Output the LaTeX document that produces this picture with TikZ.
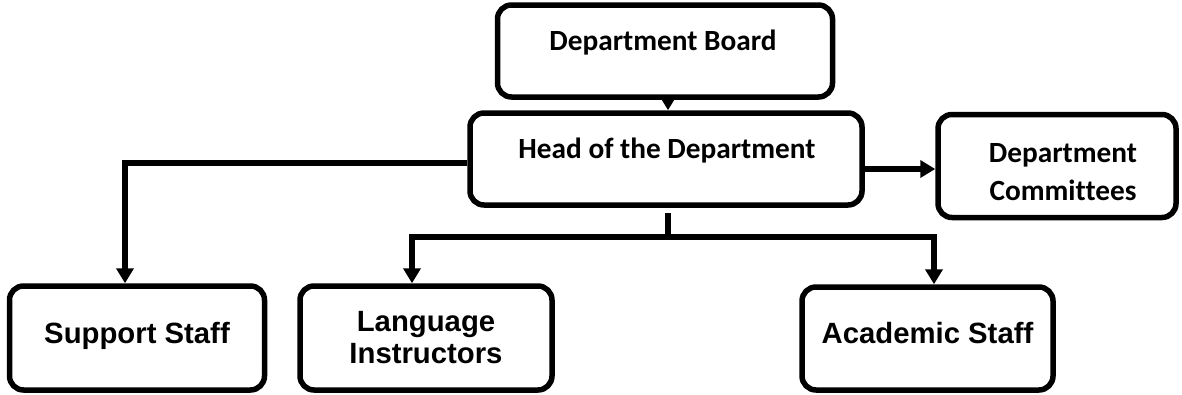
\documentclass[tikz,border=0pt]{standalone}
\usepackage{fontspec}
\usetikzlibrary{arrows.meta}
\newfontfamily\calfont[Ligatures=NoCommon]{Carlito}
\newfontfamily\arialfont{Liberation Sans}
\tikzset{
  box/.style={draw=black, line width=5.5pt, rounded corners=14pt, fill=white, inner sep=0pt},
  conn/.style={line width=5.5pt, draw=black},
  arr/.style={conn, -{Triangle[length=15pt,width=17pt]}},
  caltext/.style={font=\calfont\bfseries\fontsize{29.3}{38}\selectfont, align=center, inner sep=0pt},
  arialtext/.style={font=\arialfont\bfseries\fontsize{29.3}{31.5}\selectfont, align=center, inner sep=0pt}
}
\begin{document}
\begin{tikzpicture}[x=1pt,y=-1pt]
\useasboundingbox (0,0) rectangle (1182,394);
% boxes
\node[box, minimum width=335pt, minimum height=92pt] (board) at (665,51) {};
\node[box, minimum width=392pt, minimum height=92pt] (head) at (666,159) {};
\node[box, minimum width=238pt, minimum height=103pt] (comm) at (1057,166) {};
\node[box, minimum width=255pt, minimum height=104pt] (support) at (137,338) {};
\node[box, minimum width=252pt, minimum height=104pt] (lang) at (426,338) {};
\node[box, minimum width=251pt, minimum height=103pt] (acad) at (927.5,338.5) {};
% texts
\node[caltext, anchor=base] (tboard) at (663,50) {Department Board};
\node[caltext, anchor=base] (thead) at (667,158) {Head of the Department};
\node[caltext, anchor=base] (tcomm) at (1063,200) {Department\\Committees};
\node[arialtext, anchor=base] (tsupport) at (137,343) {Support Staff};
\node[arialtext, anchor=base] (tlang) at (426,363) {Language\\Instructors};
\node[arialtext, anchor=base] (tacad) at (927.5,343) {Academic Staff};
% connectors
\draw[arr] ([xshift=3pt]board.south) -- ([xshift=3pt]board.south |- head.north);
\draw[arr] ([yshift=-4pt]head.west) -| ([xshift=-12pt]support.north);
\draw[arr] ([yshift=-10pt]head.east) -- ([yshift=-10pt]head.east -| comm.west);
\coordinate (j) at (668,237);
\draw[conn] ([yshift=-5pt]head.south -| j) -- (j);
\draw[arr] ([xshift=2.75pt]j) -| ([xshift=-14pt]lang.north);
\draw[arr] ([xshift=-2.75pt]j) -| ([xshift=6.5pt]acad.north);
\end{tikzpicture}
\end{document}
